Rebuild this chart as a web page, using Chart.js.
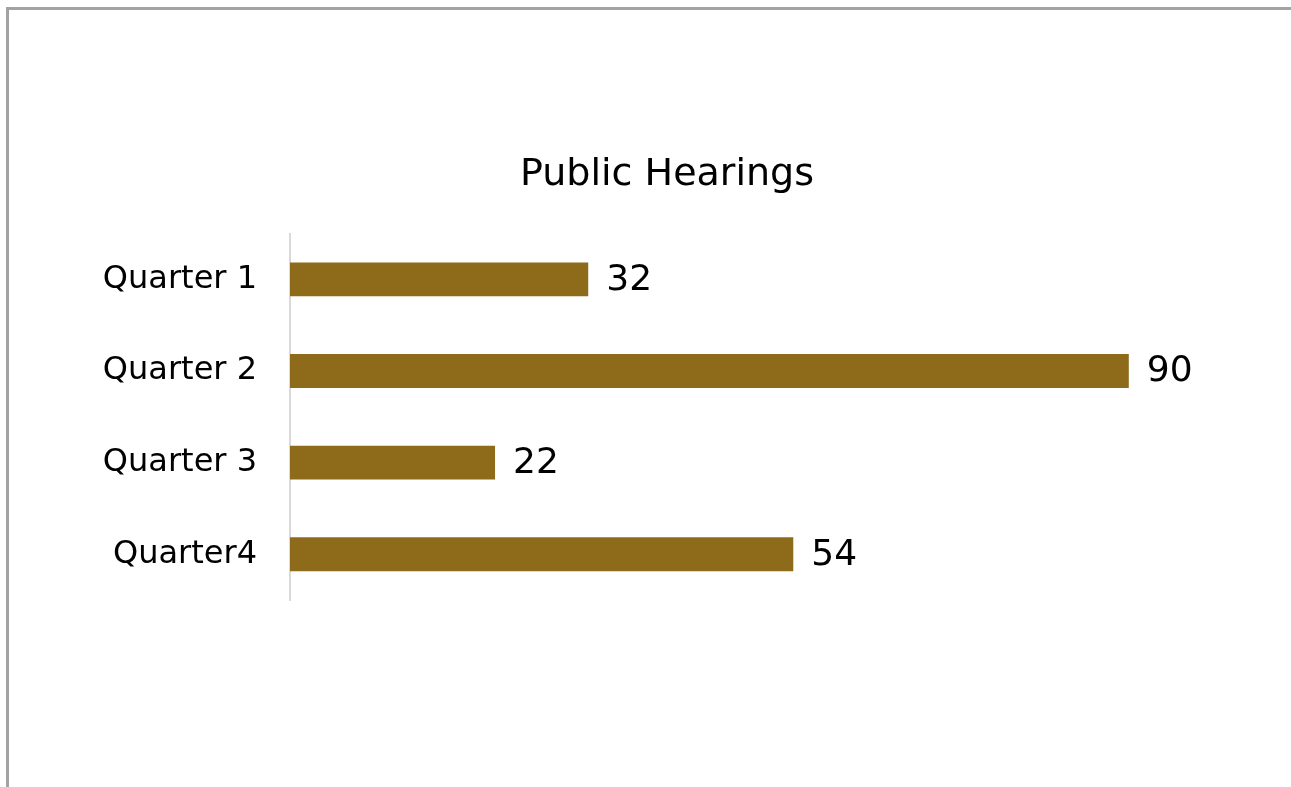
<!DOCTYPE html>
<html>
<head>
<meta charset="utf-8">
<script src="https://cdn.jsdelivr.net/npm/chart.js@4.4.1/dist/chart.umd.min.js"></script>
<style>
  html, body { margin: 0; padding: 0; background: #fff; overflow: hidden; }
  .frame {
    position: absolute; left: 6px; top: 7px; width: 1400px; height: 900px;
    border-top: 3px solid #a3a3a3; border-left: 3px solid #a3a3a3;
  }
  .wrap { position: absolute; left: 0; top: 0; width: 1291px; height: 787px; }
</style>
</head>
<body>
<div class="frame"></div>
<div class="wrap"><canvas id="hearings"></canvas></div>
<script>
const quarters = ["Quarter 1", "Quarter 2", "Quarter 3", "Quarter4"]
const hearings = [32, 90, 22, 54]
const chartTitle = "Public Hearings"

const FONT = "'DejaVu Sans', Verdana, sans-serif"

// value next to the end of every bar
const barValues = {
  id: 'barValues',
  afterDatasetsDraw: (chart) => {
    const ctx = chart.ctx
    ctx.save()
    ctx.font = "36px " + FONT
    ctx.fillStyle = "#000"
    ctx.textAlign = "left"
    ctx.textBaseline = "middle"
    chart.getDatasetMeta(0).data.forEach((bar, i) => {
      ctx.fillText(chart.data.datasets[0].data[i], bar.x + 18, bar.y + 1)
    })
    ctx.restore()
  }
}

new Chart(document.querySelector("#hearings").getContext("2d"), {
  type: 'bar',
  data: {
    labels: quarters,
    datasets: [{
      data: hearings,
      backgroundColor: '#8d6b1a',
      barPercentage: 0.37,
      categoryPercentage: 1
    }]
  },
  options: {
    indexAxis: 'y',
    responsive: true,
    maintainAspectRatio: false,
    animation: false,
    layout: { padding: { left: 68, right: 25, top: 0, bottom: 187 } },
    plugins: {
      legend: { display: false },
      tooltip: { enabled: false },
      title: {
        display: true,
        text: chartTitle,
        color: '#000',
        font: { family: FONT, size: 38, weight: 'normal' },
        padding: { top: 152, bottom: 36 }
      }
    },
    scales: {
      x: { display: false, min: 0, max: 100 },
      y: {
        afterFit: (scale) => { scale.width = 222 },
        grid: { display: false, drawTicks: false },
        border: { display: true, color: '#d9d9d9', width: 2 },
        ticks: { color: '#000', padding: 33, font: { family: FONT, size: 32 } }
      },
      // empty strip on the right so the plot keeps its room for the labels
      spacer: {
        type: 'category',
        position: 'right',
        afterFit: (scale) => { scale.width = 44 },
        grid: { display: false, drawTicks: false },
        border: { display: false },
        ticks: { display: false }
      }
    }
  },
  plugins: [barValues]
})
</script>
</body>
</html>
